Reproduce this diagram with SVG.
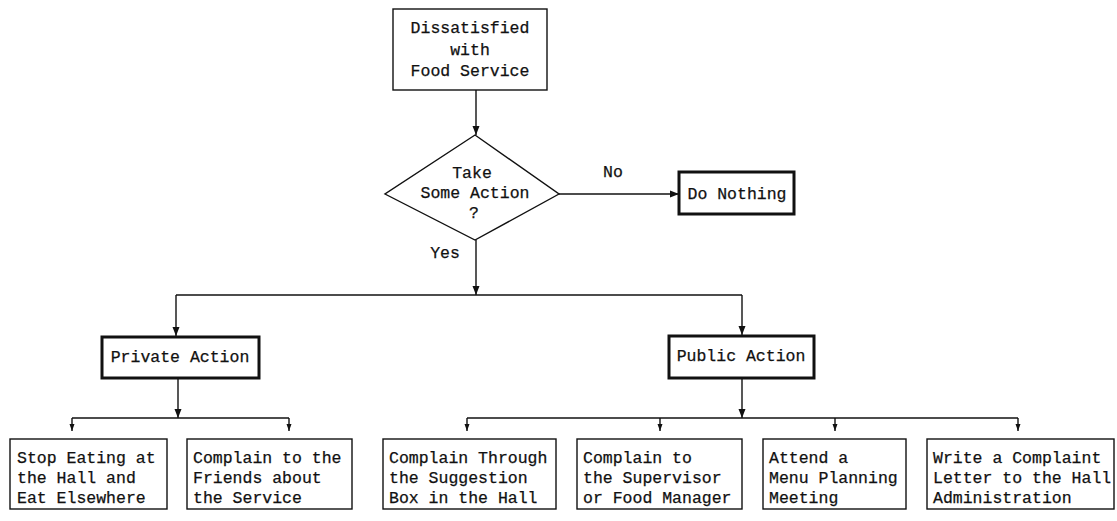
<svg xmlns="http://www.w3.org/2000/svg" width="1117" height="521" viewBox="0 0 1117 521">
<defs>
<style>
.box{fill:#fff;stroke:#111;stroke-width:1.4}
.thick{fill:#fff;stroke:#111;stroke-width:3}
.ln{fill:none;stroke:#111;stroke-width:1.4}
text{font-family:"Liberation Mono","DejaVu Sans Mono",monospace;font-size:16.5px;fill:#111;stroke:#111;stroke-width:0.25}
.c{text-anchor:middle}
</style>
<marker id="big" markerUnits="userSpaceOnUse" markerWidth="10" markerHeight="8" refX="9" refY="4" orient="auto">
<path d="M0,0.5 L9,4 L0,7.5 Z" fill="#111"/>
</marker>
<marker id="small" markerUnits="userSpaceOnUse" markerWidth="8" markerHeight="6" refX="7" refY="3" orient="auto">
<path d="M0,0.5 L7,3 L0,5.5 Z" fill="#111"/>
</marker>
</defs>
<rect width="1117" height="521" fill="#fff"/>
<g id="connectors">
<path class="ln" d="M476,90 V135" marker-end="url(#big)"/>
<path class="ln" d="M559,194 H679" marker-end="url(#big)"/>
<path class="ln" d="M476,240 V295" marker-end="url(#big)"/>
<path class="ln" d="M176,295 H742"/>
<path class="ln" d="M176,295 V336" marker-end="url(#big)"/>
<path class="ln" d="M742,295 V335" marker-end="url(#big)"/>
<path class="ln" d="M178,378 V418" marker-end="url(#big)"/>
<path class="ln" d="M72,418 H289"/>
<path class="ln" d="M72,418 V431" marker-end="url(#small)"/>
<path class="ln" d="M289,418 V431" marker-end="url(#small)"/>
<path class="ln" d="M742,378 V418" marker-end="url(#big)"/>
<path class="ln" d="M467,418 H1018"/>
<path class="ln" d="M467,418 V431" marker-end="url(#small)"/>
<path class="ln" d="M660,418 V431" marker-end="url(#small)"/>
<path class="ln" d="M835,418 V431" marker-end="url(#small)"/>
<path class="ln" d="M1018,418 V431" marker-end="url(#small)"/>
<text x="613" y="177" class="c">No</text>
<text x="445" y="258" class="c">Yes</text>
</g>
<g id="start">
<rect class="box" x="393" y="9" width="154" height="81"/>
<text x="470" y="33" class="c">Dissatisfied</text>
<text x="470" y="55" class="c">with</text>
<text x="470" y="76" class="c">Food Service</text>
</g>
<g id="decision">
<polygon class="box" points="475,135 559,194 475,240 385,194"/>
<text x="472" y="178" class="c">Take</text>
<text x="475" y="198" class="c">Some Action</text>
<text x="474" y="218" class="c">?</text>
</g>
<g id="nothing">
<rect class="thick" x="679" y="172" width="115" height="42"/>
<text x="737" y="199" class="c">Do Nothing</text>
</g>
<g id="private">
<rect class="thick" x="102" y="337" width="157" height="41"/>
<text x="180" y="362" class="c">Private Action</text>
</g>
<g id="public">
<rect class="thick" x="669" y="336" width="145" height="42"/>
<text x="741" y="361" class="c">Public Action</text>
</g>
<g id="b1">
<rect class="box" x="10" y="439" width="157" height="70"/>
<text x="17" y="463">Stop Eating at</text>
<text x="17" y="483">the Hall and</text>
<text x="17" y="503">Eat Elsewhere</text>
</g>
<g id="b2">
<rect class="box" x="187" y="439" width="165" height="70"/>
<text x="193" y="463">Complain to the</text>
<text x="193" y="483">Friends about</text>
<text x="193" y="503">the Service</text>
</g>
<g id="b3">
<rect class="box" x="383" y="439" width="173" height="70"/>
<text x="389" y="463">Complain Through</text>
<text x="389" y="483">the Suggestion</text>
<text x="389" y="503">Box in the Hall</text>
</g>
<g id="b4">
<rect class="box" x="577" y="439" width="165" height="70"/>
<text x="583" y="463">Complain to</text>
<text x="583" y="483">the Supervisor</text>
<text x="583" y="503">or Food Manager</text>
</g>
<g id="b5">
<rect class="box" x="763" y="439" width="143" height="70"/>
<text x="769" y="463">Attend a</text>
<text x="769" y="483">Menu Planning</text>
<text x="769" y="503">Meeting</text>
</g>
<g id="b6">
<rect class="box" x="927" y="439" width="187" height="70"/>
<text x="933" y="463">Write a Complaint</text>
<text x="933" y="483">Letter to the Hall</text>
<text x="933" y="503">Administration</text>
</g>
</svg>
